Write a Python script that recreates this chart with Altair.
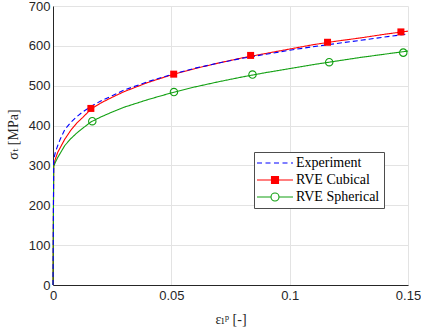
import altair as alt
import pandas as pd

# ---- data ----
strain = [0, 0.0003, 0.001, 0.002, 0.003, 0.005, 0.0075, 0.01, 0.0125, 0.016,
          0.02, 0.025, 0.03, 0.04, 0.05, 0.06, 0.07, 0.08, 0.09, 0.1,
          0.11, 0.12, 0.13, 0.14, 0.15]
exp_stress = [0, 315, 333, 350, 365, 390, 408, 422, 434, 448,
              461, 475, 489, 510, 528, 544, 557, 569, 579, 589,
              598, 606, 614, 622, 630]
cub_stress = [0, 298, 316, 333, 344, 366, 388, 406, 420, 441,
              456, 471, 485, 508, 527, 543, 557, 570, 581, 592,
              603, 612, 620, 629, 637]
sph_stress = [0, 298, 308, 320, 330, 350, 367, 381, 393, 409,
              421, 434, 446, 465, 482, 497, 510, 522, 533, 543,
              553, 562, 571, 579, 587]

cub_mark_x = [0.016, 0.051, 0.0835, 0.116, 0.147]
cub_mark_y = [443, 529, 576, 609, 635]
sph_mark_x = [0.0166, 0.0511, 0.0843, 0.1167, 0.148]
sph_mark_y = [411, 484, 528, 559, 583]

series_names = ["Experiment", "RVE Cubical", "RVE Spherical"]
series_colors = ["#0000ff", "#ff0000", "#12a012"]
series_fills = ["transparent", "#ff0000", "#ffffff"]
x_ticks = [0, 0.05, 0.1, 0.15]
y_ticks = [0, 100, 200, 300, 400, 500, 600, 700]

# legend glyphs (line + marker), unit = sqrt(symbolSize)/2
legend_paths = [
    "M-3.6,0H-2.6M-1.9,0H-0.9M-0.2,0H0.8M1.5,0H2.5M3.2,0H3.6",
    "M-3.6,0H3.6M-0.7,-0.7H0.7V0.7H-0.7Z",
    "M-3.6,0H-0.8M0.8,0H3.6M-0.8,0A0.8,0.8 0 1,0 0.8,0A0.8,0.8 0 1,0 -0.8,0Z",
]

rows = []
for name, ys in zip(series_names, [exp_stress, cub_stress, sph_stress]):
    for i, (x, y) in enumerate(zip(strain, ys)):
        rows.append({"strain": x, "stress": y, "series": name, "idx": i})
lines_df = pd.DataFrame(rows)

mrows = []
for name, xs, ys in [("RVE Cubical", cub_mark_x, cub_mark_y),
                     ("RVE Spherical", sph_mark_x, sph_mark_y)]:
    for x, y in zip(xs, ys):
        mrows.append({"strain": x, "stress": y, "series": name})
marks_df = pd.DataFrame(mrows)

axis_font = "Liberation Sans, Arial, Helvetica"
serif = "Liberation Serif, DejaVu Serif, serif"

x_enc = alt.X("strain:Q", scale=alt.Scale(domain=[0, 0.15], nice=False, zero=False),
              axis=alt.Axis(values=x_ticks, labelExpr="'' + datum.value", title="εₗᵖ [-]",
                            grid=True, ticks=False, labelPadding=4, labelFlush=False,
                            titlePadding=10, titleFont=serif, titleFontSize=14,
                            titleFontWeight="normal"))
y_enc = alt.Y("stress:Q", scale=alt.Scale(domain=[0, 700], nice=False),
              axis=alt.Axis(values=y_ticks, title="σₜ [MPa]", grid=True,
                            ticks=False, labelPadding=3, titlePadding=8,
                            labelFlush=False, titleY=128,
                            titleFont=serif, titleFontSize=14,
                            titleFontWeight="normal"))

# data-driven domain (sorted names) -> same order as series_names
color_scale = alt.Scale(range=series_colors)


def line_layer(name, dash):
    return alt.Chart(lines_df).transform_filter(
        alt.datum.series == name
    ).mark_line(strokeWidth=1.1, strokeDash=dash).encode(
        x=x_enc, y=y_enc,
        color=alt.Color("series:N", scale=color_scale, legend=None),
        order="idx:Q",
    )


red_line = line_layer("RVE Cubical", [1, 0])
green_line = line_layer("RVE Spherical", [1, 0])
blue_line = line_layer("Experiment", [5, 3])

cub_marks = alt.Chart(marks_df).transform_filter(
    alt.datum.series == "RVE Cubical"
).mark_point(shape="square", filled=True, size=49, opacity=1).encode(
    x=x_enc, y=y_enc,
    color=alt.Color("series:N", scale=color_scale, legend=None),
)
sph_marks = alt.Chart(marks_df).transform_filter(
    alt.datum.series == "RVE Spherical"
).mark_point(shape="circle", filled=False, size=55, strokeWidth=1.1, opacity=1).encode(
    x=x_enc, y=y_enc,
    color=alt.Color("series:N", scale=color_scale, legend=None),
)

legend = alt.Legend(
    title=None, orient="none", legendX=201, legendY=146,
    symbolSize=100, symbolStrokeWidth=1.1, symbolOffset=10, symbolOpacity=1,
    labelOffset=14, labelFont=serif, labelFontSize=14, labelColor="#000000",
    rowPadding=3, padding=4, strokeColor="#4d4d4d", fillColor="#ffffff",
    cornerRadius=0, labelExpr="datum.label + '  '",
)

# invisible layer that only carries the combined legend
legend_layer = alt.Chart(lines_df).mark_point(
    filled=False, opacity=0
).encode(
    x=x_enc, y=y_enc,
    stroke=alt.Stroke("series:N", scale=alt.Scale(domain=series_names, range=series_colors), legend=legend),
    fill=alt.Fill("series:N", scale=alt.Scale(domain=series_names, range=series_fills), legend=legend),
    shape=alt.Shape("series:N", scale=alt.Scale(domain=series_names, range=legend_paths), legend=legend),
)

chart = alt.layer(
    red_line, green_line, blue_line, cub_marks, sph_marks, legend_layer
).properties(
    width=355, height=279,
    autosize=alt.AutoSizeParams(type="none"),
    padding={"left": 53, "top": 6, "right": 13, "bottom": 45},
).configure_view(stroke=None).configure_axis(
    labelFont=axis_font, labelFontSize=13, labelColor="#262626",
    titleColor="#262626", domainColor="#262626", domainWidth=1,
    gridColor="#e3e3e3", gridWidth=1,
)

chart.save("out.html", embed_options={"renderer": "svg", "actions": False})
